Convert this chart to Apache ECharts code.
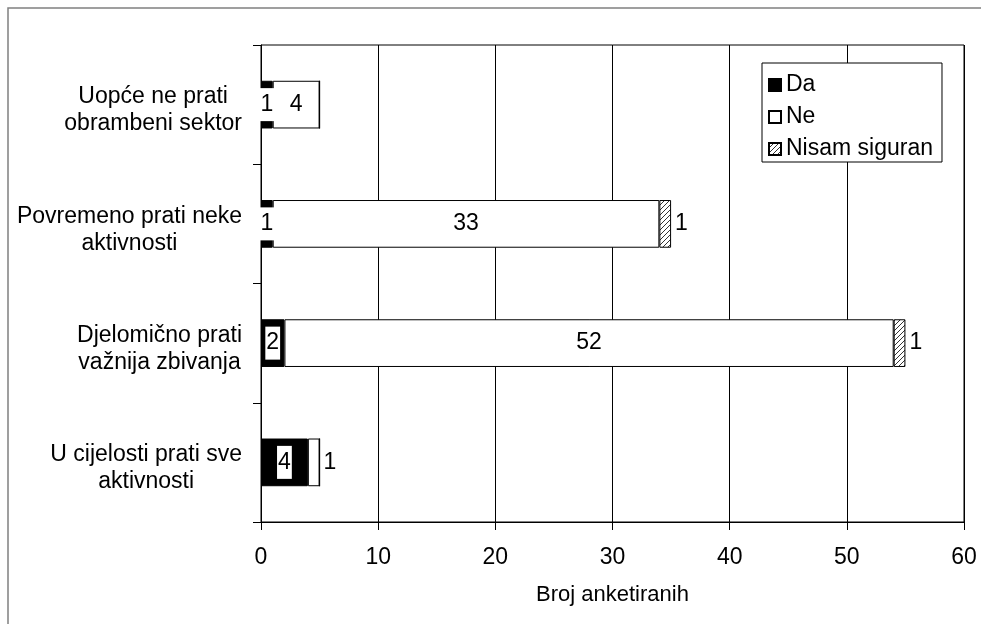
<!DOCTYPE html>
<html>
<head>
<meta charset="utf-8">
<script src="https://cdn.jsdelivr.net/npm/echarts@6/dist/echarts.min.js"></script>
<style>
html,body{margin:0;padding:0;background:#fff;}
#chart{width:981px;height:624px;}
</style>
</head>
<body>
<div id="chart"></div>
<script>
var categories = ['Uopće ne prati\nobrambeni sektor', 'Povremeno prati neke\naktivnosti', 'Djelomično prati\nvažnija zbivanja', 'U cijelosti prati sve\naktivnosti'];
var seriesNames = ['Da', 'Ne', 'Nisam siguran'];
var daValues = [1, 1, 2, 4];
var neValues = [4, 33, 52, 1];
var nisamValues = [0, 1, 1, 0];
var xTicks = [0, 10, 20, 30, 40, 50, 60];
var axisTitle = 'Broj anketiranih';

var FONT = '"Liberation Sans", Arial, sans-serif';

// hatch pattern
var pc = document.createElement('canvas');
pc.width = 5; pc.height = 5;
var ctx = pc.getContext('2d');
ctx.fillStyle = '#fff'; ctx.fillRect(0, 0, 5, 5);
ctx.strokeStyle = '#333'; ctx.lineWidth = 1;
ctx.beginPath();
ctx.moveTo(-1, 6); ctx.lineTo(6, -1);
ctx.moveTo(-1, 1); ctx.lineTo(1, -1);
ctx.moveTo(4, 6); ctx.lineTo(6, 4);
ctx.stroke();
var hatch = { image: pc, repeat: 'repeat' };

var chart = echarts.init(document.getElementById('chart'));

var neData = neValues.map(function (v, i) {
  if (v <= 2) {
    return { value: v, label: { position: 'right', distance: 4 } };
  }
  return v;
});

var option = {
  animation: false,
  backgroundColor: '#fff',
  textStyle: { fontFamily: FONT },
  graphic: [{
    type: 'rect',
    shape: { x: 8, y: 8, width: 1000, height: 1000 },
    style: { fill: 'none', stroke: '#808080', lineWidth: 1.5 },
    silent: true
  }],
  grid: {
    left: 261, right: 17, top: 45, bottom: 102,
    show: true, borderColor: '#000', borderWidth: 1, backgroundColor: 'transparent'
  },
  legend: {
    orient: 'vertical',
    left: 762, top: 63,
    data: seriesNames,
    itemWidth: 12, itemHeight: 12, itemGap: 6,
    padding: [9, 9, 0, 6],
    borderColor: '#000', borderWidth: 1,
    backgroundColor: '#fff',
    textStyle: { fontSize: 23, lineHeight: 26, color: '#000', fontFamily: FONT },
    icon: 'rect'
  },
  xAxis: {
    type: 'value',
    min: xTicks[0], max: xTicks[xTicks.length - 1], interval: 10,
    name: axisTitle, nameLocation: 'middle', nameGap: 62,
    nameTextStyle: { fontSize: 22, color: '#000', fontFamily: FONT },
    axisLine: { show: true, lineStyle: { color: '#000', width: 1 } },
    axisTick: { show: true, length: 8, lineStyle: { color: '#000' } },
    axisLabel: { fontSize: 23, color: '#000', margin: 24, fontFamily: FONT },
    splitLine: { show: true, lineStyle: { color: '#000', width: 1 } }
  },
  yAxis: {
    type: 'category',
    inverse: true,
    data: categories,
    axisLine: { show: true, lineStyle: { color: '#000', width: 1 } },
    axisTick: { show: true, length: 8, lineStyle: { color: '#000' } },
    axisLabel: {
      interval: 0,
      margin: 19,
      padding: [12, 0, 0, 0],
      formatter: function (v) {
        return v.split('\n').map(function (s) { return '{c|' + s + '}'; }).join('\n');
      },
      rich: {
        c: { fontSize: 23, lineHeight: 27, align: 'center', color: '#000', fontFamily: FONT }
      }
    },
    splitLine: { show: false }
  },
  series: [
    {
      name: seriesNames[0], type: 'bar', stack: 's', data: daValues,
      barCategoryGap: '60%',
      itemStyle: { color: '#000', borderColor: '#000', borderWidth: 1 },
      label: {
        show: true, position: 'inside', color: '#000', fontSize: 23, lineHeight: 23,
        backgroundColor: '#fff', padding: [5, 1], fontFamily: FONT
      }
    },
    {
      name: seriesNames[1], type: 'bar', stack: 's', data: neData,
      itemStyle: { color: '#fff', borderColor: '#000', borderWidth: 1 },
      label: { show: true, position: 'inside', color: '#000', fontSize: 23, fontFamily: FONT }
    },
    {
      name: seriesNames[2], type: 'bar', stack: 's', data: nisamValues,
      itemStyle: { color: hatch, borderColor: '#000', borderWidth: 1 },
      label: {
        show: true, position: 'right', distance: 4, color: '#000', fontSize: 23, fontFamily: FONT,
        formatter: function (p) { return p.value ? String(p.value) : ''; }
      }
    }
  ]
};
chart.setOption(option);
</script>
</body>
</html>
